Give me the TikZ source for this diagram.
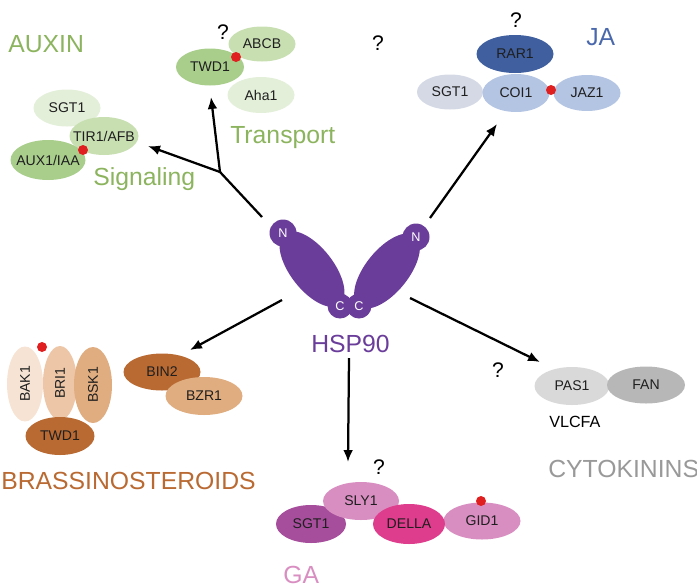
\documentclass[tikz,border=0pt]{standalone}
\usepackage{fontspec}
\setmainfont{Liberation Sans}
\usetikzlibrary{arrows.meta,shapes.geometric}
\newcommand{\pname}[1]{\makebox[0pt]{#1}}
\begin{document}
\begin{tikzpicture}[x=0.025cm, y=-0.025cm,
  prot/.style n args={3}{ellipse, fill=#1, minimum width=#2*0.025cm, minimum height=#3*0.025cm, inner sep=0pt, text=black!88, font=\fontsize{10}{12}\selectfont},
  lobe/.style={ellipse, fill=hsp, minimum width=90*0.025cm, minimum height=43*0.025cm, inner sep=0pt},
  term/.style={circle, fill=hsp, minimum size=#1*0.025cm, inner sep=0pt, text=white, font=\fontsize{9}{10}\selectfont},
  pdot/.style={circle, fill=dotred, minimum size=10*0.025cm, inner sep=0pt},
  ttl/.style={anchor=base west, inner sep=0pt, font=\fontsize{17.6}{21}\selectfont},
  qm/.style={inner sep=0pt, font=\fontsize{15}{18}\selectfont},
  conn/.style={line width=1.6pt},
  arr/.style={conn, -{Latex[length=8.5pt, width=7pt]}}]
\useasboundingbox (0,0) rectangle (697,587);
\definecolor{gA}{HTML}{E3EFD9}
\definecolor{gB}{HTML}{C8DFB2}
\definecolor{gC}{HTML}{A9CE8C}
\definecolor{gT}{HTML}{8CB45E}
\definecolor{jaD}{HTML}{3F5F9E}
\definecolor{jaM}{HTML}{B4C5E4}
\definecolor{jaL}{HTML}{D4D9E5}
\definecolor{jaT}{HTML}{4A68AC}
\definecolor{hsp}{HTML}{6A3D9A}
\definecolor{brA}{HTML}{F6E3D3}
\definecolor{brB}{HTML}{EDC6A8}
\definecolor{brC}{HTML}{E0AD80}
\definecolor{brD}{HTML}{B96A32}
\definecolor{ckL}{HTML}{D9D9D9}
\definecolor{ckD}{HTML}{B7B7B7}
\definecolor{ckT}{HTML}{999999}
\definecolor{gaL}{HTML}{D98EC2}
\definecolor{gaP}{HTML}{A64D9C}
\definecolor{gaD}{HTML}{DE3C8C}
\definecolor{dotred}{HTML}{E02020}
% auxin
\node[ttl, text=gT] (auxin) at (8,52) {AUXIN};
\node[prot={gB}{67}{35}] (abcb) at (262,44) {\pname{ABCB}};
\node[prot={gA}{67}{36}] (aha) at (261,95) {\pname{Aha1}};
\node[prot={gC}{68}{37}] (twdA) at (210,67) {\pname{TWD1}};
\node[pdot] (dotT) at (236,57) {};
\node[qm] (qT) at (223,32) {?};
\node[ttl, text=gT] (transport) at (230,143) {Transport};
\node[prot={gA}{67}{37}] (sgtA) at (67,108) {\pname{SGT1}};
\node[prot={gB}{69}{38}] (tir) at (104,136) {\pname{TIR1/AFB}};
\node[prot={gC}{75}{40}] (aux) at (48,160) {\pname{AUX1/IAA}};
\node[pdot] (dotS) at (83,150) {};
\node[ttl, text=gT] (signal) at (93,185) {Signaling};
\node[qm] (qM) at (378,43) {?};
% ja
\node[prot={jaD}{77}{38}] (rar) at (515,54) {\pname{RAR1}};
\node[prot={jaL}{66}{35}] (sgtJ) at (450,92) {\pname{SGT1}};
\node[prot={jaM}{67}{36}] (jaz) at (587,93) {\pname{JAZ1}};
\node[prot={jaM}{67}{38}] (coi) at (516,93) {\pname{COI1}};
\node[pdot] (dotJ) at (551,90) {};
\node[qm] (qJ) at (516,20) {?};
\node[ttl, text=jaT] (ja) at (586,45) {JA};
% hsp90
\node[lobe, rotate=-52] (lobeL) at (312,269) {};
\node[lobe, rotate=51] (lobeR) at (387,271) {};
\node[term=27] (nL) at (283,233) {N};
\node[term=27] (nR) at (416,237) {N};
\node[term=25] (cL) at (340,306) {C};
\node[term=25] (cR) at (359,306) {C};
\node[ttl, text=hsp] (hsp90) at (311,352) {HSP90};
% arrows
\coordinate (fork) at (220,172);
\coordinate (ulS) at (262,217);
\coordinate (tpE) at (211,97);
\coordinate (sgE) at (148,146);
\coordinate (urS) at (430,218);
\coordinate (jaE) at (497,124);
\coordinate (llS) at (282,300);
\coordinate (brE) at (190,350);
\coordinate (lrS) at (410,298);
\coordinate (ckE) at (540,362);
\coordinate (dnS) at (349,358);
\coordinate (gaE) at (348,462);
\draw[conn] (ulS) -- (fork);
\draw[arr] (fork) -- (tpE);
\draw[arr] (fork) -- (sgE);
\draw[arr] (urS) -- (jaE);
\draw[arr] (llS) -- (brE);
\draw[arr] (lrS) -- (ckE);
\draw[arr] (dnS) -- (gaE);
% brassinosteroids
\node[prot={brA}{75}{36}, rotate=90] (bak) at (25,384) {\pname{BAK1}};
\node[prot={brB}{74}{34}, rotate=90] (bri) at (60,383) {\pname{BRI1}};
\node[prot={brC}{76}{38}, rotate=90] (bsk) at (93,385) {\pname{BSK1}};
\node[prot={brD}{69}{38}] (twdB) at (60,436) {\pname{TWD1}};
\node[pdot] (dotB) at (42,347) {};
\node[prot={brD}{77}{37}] (bin) at (162,372) {\pname{BIN2}};
\node[prot={brC}{77}{38}] (bzr) at (204,396) {\pname{BZR1}};
\node[ttl, text=brD] (brass) at (1,489) {BRASSINOSTEROIDS};
% cytokinins
\node[prot={ckL}{75}{38}] (pas) at (572,386) {\pname{PAS1}};
\node[prot={ckD}{78}{37}] (fan) at (646,385) {\pname{FAN}};
\node[anchor=base west, inner sep=0pt, font=\fontsize{11.5}{14}\selectfont] (vlcfa) at (549,427) {VLCFA};
\node[qm] (qC) at (498,370) {?};
\node[ttl, text=ckT] (cyto) at (548,477) {CYTOKININS};
% ga
\node[prot={gaP}{70}{38}] (sgtG) at (311,524) {\pname{SGT1}};
\node[prot={gaL}{76}{38}] (sly) at (361,501) {\pname{SLY1}};
\node[prot={gaL}{77}{37}] (gid) at (482,521) {\pname{GID1}};
\node[prot={gaD}{72}{40}] (della) at (409,524) {\pname{DELLA}};
\node[pdot] (dotG) at (481,501) {};
\node[qm] (qG) at (379,467) {?};
\node[ttl, text=gaL] (ga) at (283,583) {GA};
\end{tikzpicture}
\end{document}
